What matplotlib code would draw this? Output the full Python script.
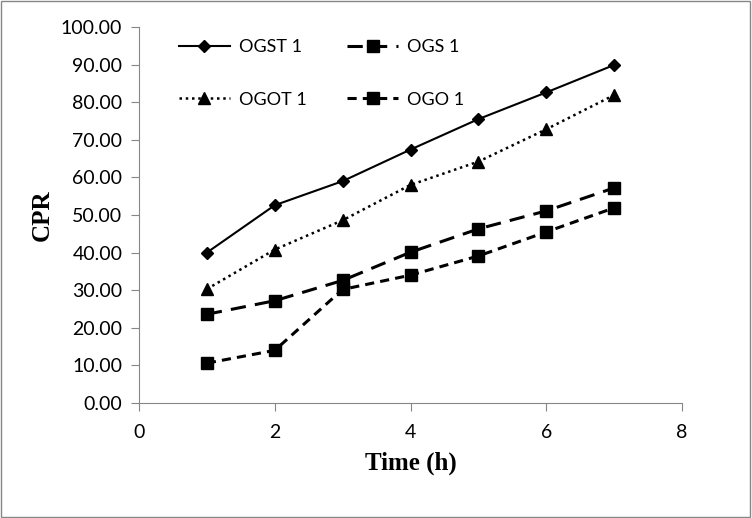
import matplotlib
matplotlib.use("Agg")
import matplotlib.pyplot as plt
from matplotlib.ticker import FormatStrFormatter
from matplotlib.patches import Rectangle

time = [1, 2, 3, 4, 5, 6, 7]
ogst1 = [40.0, 52.6, 59.0, 67.4, 75.5, 82.6, 89.9]
ogs1 = [23.6, 27.2, 32.6, 40.1, 46.3, 51.1, 57.2]
ogot1 = [30.3, 40.8, 48.6, 58.0, 64.2, 72.8, 81.9]
ogo1 = [10.6, 14.0, 30.2, 34.0, 39.1, 45.5, 51.9]

xticks = [0, 2, 4, 6, 8]
yticks = [0, 10, 20, 30, 40, 50, 60, 70, 80, 90, 100]

fig = plt.figure(figsize=(7.52, 5.18), dpi=100)
fig.patches.append(Rectangle((0.001, 0.001), 0.997, 0.997, transform=fig.transFigure,
                             fill=False, edgecolor="#868686", linewidth=1.0))
ax = fig.add_axes([139/752, 1-403/518, (682-139)/752, (403-27)/518])

l1, = ax.plot(time, ogst1, color="black", lw=1.5, ls="-", marker="D", ms=6, label="OGST 1")
l2, = ax.plot(time, ogs1, color="black", lw=2.2, ls=(0, (5, 3)), marker="s", ms=9, label="OGS 1")
l3, = ax.plot(time, ogot1, color="black", lw=1.8, ls=(0, (1, 1.5)), marker="^", ms=8, label="OGOT 1")
l4, = ax.plot(time, ogo1, color="black", lw=2.2, ls=(0, (3, 2)), marker="s", ms=9, label="OGO 1")

ax.set_xlim(0, 8)
ax.set_ylim(0, 100)
ax.set_xticks(xticks)
ax.set_yticks(yticks)
ax.yaxis.set_major_formatter(FormatStrFormatter("%.2f"))
for s in ["top", "right"]:
    ax.spines[s].set_visible(False)
for s in ["left", "bottom"]:
    ax.spines[s].set_color("#868686")
ax.tick_params(direction="out", length=6, color="#868686", labelsize=14)
ax.tick_params(axis="x", pad=9)
ax.tick_params(axis="y", pad=6)
for lab in ax.get_xticklabels() + ax.get_yticklabels():
    lab.set_fontfamily("Lato")

ax.set_xlabel("Time (h)", family="Liberation Serif", fontweight="bold", fontsize=18, labelpad=8)
ax.set_ylabel("CPR", family="Liberation Serif", fontweight="bold", fontsize=18, labelpad=5)

leg = ax.legend(handles=[l1, l3, l2, l4], ncol=2, frameon=False, loc="upper left",
                bbox_to_anchor=(0.044, 1.011), labelspacing=2.03, columnspacing=2.27,
                handlelength=2.8, handletextpad=0.5,
                prop={"family": "Lato", "size": 13})

fig.savefig("out.png", dpi=100)
